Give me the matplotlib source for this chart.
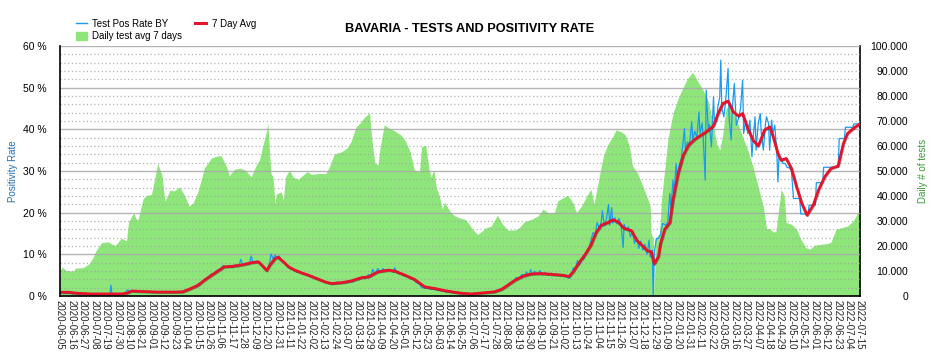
import matplotlib
matplotlib.use('Agg')
import matplotlib.pyplot as plt
import matplotlib.ticker as mticker
import matplotlib.patches as mpatches
import matplotlib.lines as mlines
import matplotlib.patheffects as pe
import pandas as pd

plt.rcParams['font.family'] = ['Liberation Sans', 'DejaVu Sans']

START = '2020-06-05'
END = '2022-07-15'

# daily tests, 7 day average (day offset from START -> tests)
test_day = [0, 2, 6, 13, 15, 22, 28, 32, 35, 40, 46, 53, 59, 64, 66, 71, 73, 75, 80, 83,
            88, 91, 94, 98, 101, 106, 110, 115, 120, 124, 128, 133, 139, 146, 152, 155, 160, 163, 168, 173,
            178, 184, 189, 192, 195, 199, 200, 203, 205, 207, 208, 213, 215, 217, 221, 224, 229, 234, 238, 242,
            250, 256, 260, 264, 271, 276, 280, 285, 288, 293, 298, 300, 303, 306, 308, 312, 317, 322, 328, 332,
            337, 341, 346, 348, 352, 355, 357, 360, 362, 365, 368, 370, 375, 380, 387, 390, 393, 397, 402, 410,
            415, 421, 426, 431, 438, 442, 447, 454, 460, 465, 470, 476, 479, 484, 489, 494, 497, 502, 507, 511,
            514, 519, 523, 527, 532, 535, 540, 544, 548, 551, 556, 561, 566, 568, 569, 571, 572, 573, 577, 579,
            582, 585, 590, 595, 600, 604, 609, 614, 619, 624, 628, 632, 635, 638, 641, 645, 648, 653, 657, 662,
            667, 672, 677, 680, 683, 686, 689, 692, 694, 697, 699, 704, 709, 713, 718, 722, 726, 733, 739, 742,
            747, 752, 758, 763, 768, 770]
test_avg = [10000, 11500, 10200, 10000, 11200, 11300, 12900, 15500, 18400, 21300, 21700, 20100, 23100, 22100,
            29700, 33300, 31000, 30400, 38900, 40200,
            40600, 46600, 53000, 48600, 38000, 42400, 42000, 43700, 40100, 36000, 37100, 42000, 51300, 55300,
            56000, 56200, 51900, 48100, 50700, 51100,
            50400, 47700, 52400, 54500, 59700, 66400, 69300, 49000, 47700, 36800, 40800, 41700, 38400, 47700,
            50400, 47700, 46600, 48400, 49700, 48700,
            49000, 49000, 52400, 56800, 57700, 59100, 61700, 67700, 68800, 71500, 73300, 63100, 53300, 52400,
            59100, 68400, 67100, 66100, 64400, 62400,
            57700, 50400, 49700, 59700, 60300, 51100, 47700, 50400, 43700, 40100, 34700, 37600, 34000, 32000,
            30900, 30700, 29300, 26700, 24600, 27300,
            28000, 32300, 28700, 26400, 26400, 27300, 29700, 30700, 32000, 34700, 33300, 33500, 38000, 39300,
            40200, 37100, 33300, 36000, 40100, 42700,
            36700, 47700, 56000, 60400, 63700, 66400, 65700, 64500, 60000, 52000, 49000, 44000, 38400, 36000,
            25000, 23000, 0, 23000, 25000, 39000,
            50400, 62400, 73100, 79100, 83700, 87000, 89500, 85700, 82400, 77700, 70400, 61100, 58400, 65100,
            75100, 76400, 73100, 68400, 63700, 58400,
            51700, 43700, 35700, 27000, 27000, 25700, 25700, 35700, 42700, 40100, 29400, 28700, 26700, 22700,
            19300, 18700, 20300, 20700, 21000, 21500,
            26700, 27300, 28000, 29800, 33300, 34700]

# positivity rate, 7 day average (%)
avg_day = [0, 8, 17, 30, 46, 59, 64, 69, 78, 94, 110, 118, 126, 133, 139, 146, 152, 158, 165, 171,
           178, 184, 191, 195, 199, 202, 207, 210, 215, 220, 226, 232, 239, 247, 255, 261, 271, 280, 290, 297,
           306, 316, 322, 332, 341, 351, 361, 370, 380, 387, 396, 409, 418, 425, 431, 438, 446, 454, 463, 473,
           483, 490, 494, 499, 505, 511, 516, 521, 527, 532, 537, 543, 550, 555, 560, 565, 569, 572, 576, 578,
           582, 587, 590, 595, 600, 605, 611, 617, 622, 629, 633, 638, 643, 648, 653, 657, 662, 667, 672, 675,
           678, 683, 686, 691, 694, 699, 704, 709, 714, 719, 725, 730, 736, 742, 749, 754, 758, 765, 770]
pos_avg = [0.9, 0.9, 0.65, 0.5, 0.5, 0.5, 0.65, 1.2, 1.1, 0.95, 0.95, 1.0, 1.8, 2.6, 3.8, 5.0, 6.0, 7.0, 7.1, 7.3,
           7.6, 8.0, 8.2, 7.2, 6.1, 7.4, 9.0, 9.3, 8.2, 7.0, 6.2, 5.6, 5.0, 4.2, 3.4, 3.0, 3.2, 3.6, 4.4, 4.6,
           5.8, 6.2, 6.0, 5.0, 4.0, 2.2, 1.8, 1.3, 0.9, 0.65, 0.5, 0.8, 1.0, 1.6, 2.6, 3.8, 4.8, 5.3, 5.4, 5.2,
           5.0, 4.7, 5.8, 7.8, 9.8, 12.2, 15.2, 17.0, 17.6, 18.3, 17.8, 16.2, 15.7, 13.4, 12.2, 10.9, 10.6, 7.7,
           9.5, 12.6,
           16.0, 17.6, 23.0, 29.4, 33.8, 36.2, 37.6, 38.6, 39.4, 40.8, 43.5, 46.2, 46.8, 44.2, 43.2, 43.8, 40.2,
           37.4, 36.0, 37.8,
           39.8, 40.6, 38.6, 34.2, 32.6, 33.0, 30.6, 26.2, 22.2, 19.4, 21.8, 25.4, 28.6, 30.6, 31.2, 36.6, 39.0,
           40.5, 41.3]

# test positivity rate, daily (%)
rate_day = [0, 3, 6, 9, 12, 15, 19, 22, 26, 30, 34, 38, 42, 46, 48, 49, 50, 54, 58, 62,
            65, 67, 70, 74, 78, 82, 86, 90, 94, 98, 102, 106, 110, 114, 118, 121, 124, 127, 130, 133,
            136, 139, 142, 145, 148, 151, 154, 157, 160, 163, 166, 169, 172, 174, 176, 179, 182, 184, 186, 189,
            192, 195, 198, 200, 202, 203, 205, 207, 209, 211, 213, 216, 219, 222, 225, 228, 231, 234, 237, 240,
            243, 246, 249, 252, 255, 258, 261, 264, 267, 270, 273, 276, 279, 282, 285, 288, 291, 294, 297, 299,
            301, 303, 306, 308, 311, 313, 316, 319, 321, 322, 325, 328, 331, 334, 337, 340, 343, 346, 348, 351,
            354, 357, 360, 363, 366, 369, 372, 375, 378, 381, 384, 387, 390, 395, 400, 405, 410, 415, 418, 421,
            424, 427, 430, 433, 436, 439, 442, 445, 447, 449, 451, 453, 455, 457, 460, 462, 464, 467, 470, 473,
            476, 479, 482, 485, 488, 490, 492, 494, 496, 498, 500, 502, 504, 506, 508, 510, 513, 515, 517, 519,
            521, 522, 524, 526, 528, 529, 531, 532, 534, 536, 538, 540, 542, 543, 545, 547, 549, 551, 553, 555,
            557, 559, 561, 563, 565, 567, 568, 570, 571, 572, 574, 576, 578, 580, 583, 585, 587, 588, 590, 591,
            593, 594, 596, 598, 601, 602, 604, 606, 608, 609, 611, 613, 615, 616, 618, 619, 621, 622, 624, 625,
            627, 629, 630, 632, 633, 635, 636, 637, 639, 641, 643, 644, 646, 647, 649, 651, 653, 655, 657, 658,
            660, 662, 664, 666, 667, 669, 670, 672, 674, 675, 677, 679, 680, 682, 683, 685, 686, 688, 690, 691,
            692, 694, 696, 698, 700, 702, 704, 706, 712, 713, 720, 721, 727, 728, 734, 735, 749, 750, 755, 756,
            763, 764, 770]
pos_rate = [0.7, 1.0, 0.6, 0.8, 0.5, 0.7, 0.4, 0.6, 0.4, 0.6, 0.3, 0.5, 0.4, 0.6, 0.3, 2.6, 0.4, 0.5, 0.4, 0.6,
            1.5, 0.9, 1.3, 1.0, 1.2, 0.9, 1.1, 0.8, 1.0, 0.9, 1.1, 0.8, 1.0, 0.9, 1.2, 1.4, 1.7, 2.0, 2.3, 2.9,
            3.2, 4.0, 4.3, 5.2, 5.4, 6.2, 6.4, 7.3, 6.9, 7.2, 6.8, 7.6, 7.0, 8.8, 7.4, 7.9, 7.5, 9.6, 7.8, 8.4,
            8.0, 7.0, 6.3, 6.5, 8.2, 10.1, 9.0, 9.8, 9.2, 9.6, 8.4, 8.0, 7.2, 6.5, 6.3, 5.7, 5.9, 5.2, 5.3, 4.7,
            4.8, 4.0, 4.2, 3.6, 3.5, 3.0, 3.1, 2.8, 3.4, 3.0, 3.3, 3.1, 3.5, 3.4, 4.0, 3.9, 4.5, 4.2, 5.2, 4.6,
            6.4, 5.3, 6.6, 5.7, 6.6, 6.0, 6.4, 6.1, 5.6, 6.8, 5.4, 5.3, 4.8, 4.7, 4.2, 4.0, 3.2, 2.9, 2.0, 1.9,
            1.9, 1.6, 1.7, 1.4, 1.3, 1.2, 1.0, 1.0, 0.8, 0.8, 0.6, 0.6, 0.5, 0.4, 0.5, 0.6, 0.8, 1.0, 0.9, 1.3,
            1.4, 2.0, 2.4, 3.2, 3.5, 4.4, 4.4, 5.2, 4.8, 5.8, 5.0, 6.3, 5.1, 5.9, 5.2, 6.1, 5.0, 5.7, 5.0, 5.5,
            4.9, 5.3, 4.8, 5.2, 4.6, 4.2, 4.9, 6.8, 6.2, 8.5, 7.4, 9.0, 8.8, 10.3, 10.6, 12.4, 15.2, 14.8, 17.6, 16.3,
            17.8, 20.5, 16.8, 18.6, 22.0, 17.0, 21.2, 17.5, 18.8, 17.3, 18.6, 17.2, 11.6, 17.2, 16.0, 16.6, 14.2,
            15.4, 12.6, 14.1,
            11.4, 13.2, 11.0, 12.4, 10.0, 13.4, 9.3, 11.0, 0.0, 10.4, 13.8, 13.8, 14.7, 17.4, 17.0, 17.8, 24.6,
            21.0, 27.8, 24.5,
            31.8, 28.5, 31.5, 33.0, 40.2, 35.0, 37.0, 36.5, 41.8, 37.5, 39.5, 38.0, 44.2, 39.0, 41.5, 38.5, 27.8,
            49.4, 39.6, 41.2,
            35.8, 47.8, 41.2, 42.0, 45.0, 47.8, 56.6, 45.0, 43.0, 47.8, 54.6, 43.0, 37.4, 44.6, 51.0, 41.0, 42.6,
            45.0, 51.8, 39.0,
            42.2, 39.0, 42.2, 33.4, 37.4, 43.0, 35.0, 41.4, 43.8, 39.0, 35.0, 41.4, 43.0, 41.4, 35.0, 42.2, 39.0,
            41.0, 34.0, 27.4,
            33.4, 33.0, 31.8, 31.8, 30.8, 30.8, 30.0, 23.4, 23.4, 19.7, 19.7, 21.8, 21.8, 27.2, 27.2, 30.9, 30.9,
            37.8, 37.8, 40.5,
            40.5, 41.3, 41.3]

GREEN = '#8ee67b'
BLUE = '#1a9af0'
RED = '#e6132b'


def to_dates(days):
    return pd.to_datetime(START) + pd.to_timedelta(days, unit='D')


fig = plt.figure(figsize=(9.34, 3.57), dpi=100)
ax = fig.add_axes([60 / 934, 1 - 296 / 357, 800 / 934, 250 / 357])
ax2 = ax.twinx()

ax2.fill_between(to_dates(test_day), test_avg, 0, color=GREEN, linewidth=0)
ax.set_zorder(ax2.get_zorder() + 1)
ax.patch.set_visible(False)

ax.plot(to_dates(rate_day), pos_rate, color=BLUE, lw=0.9)
ax.plot(to_dates(avg_day), pos_avg, color=RED, lw=2.0,
        path_effects=[pe.SimpleLineShadow(offset=(0.4, -0.4), alpha=0.35), pe.Normal()])

ax.set_ylim(0, 60)
ax2.set_ylim(0, 100000)
ax.set_xlim(pd.to_datetime(START), pd.to_datetime(END))

ax.yaxis.set_major_locator(mticker.MultipleLocator(10))
ax.yaxis.set_minor_locator(mticker.MultipleLocator(2))
ax.yaxis.set_major_formatter(mticker.FuncFormatter(lambda v, p: f'{int(v)} %'))
ax2.yaxis.set_major_locator(mticker.MultipleLocator(10000))
ax2.yaxis.set_major_formatter(mticker.FuncFormatter(lambda v, p: f'{int(v):,}'.replace(',', '.')))

ax.grid(which='major', axis='y', color='#a8a8a8', lw=1.0, alpha=0.85)
ax.grid(which='minor', axis='y', color='#a0a0a0', lw=0.9, linestyle=(0, (1, 2)), alpha=0.8)
ax.grid(False, axis='x')
ax.set_axisbelow(True)

ticks = pd.date_range(START, END, freq='11D')
ax.set_xticks(ticks)
ax.set_xticklabels([t.strftime('%Y-%m-%d') for t in ticks], rotation=-90, fontsize=7)
ax.tick_params(axis='x', length=0, pad=3, labelcolor='#222222')
ax.tick_params(axis='y', which='both', length=0, labelsize=7.5, pad=9.5)
ax2.tick_params(axis='y', length=0, labelsize=7.5, pad=34.5)
for lbl in ax2.get_yticklabels():
    lbl.set_horizontalalignment('right')

for s in ['top', 'right']:
    ax.spines[s].set_visible(False)
for s in ['top', 'left', 'bottom']:
    ax2.spines[s].set_visible(False)
ax.spines['left'].set_linewidth(1.2)
ax.spines['bottom'].set_linewidth(1.2)
ax2.spines['right'].set_linewidth(1.2)

ax.set_ylabel('Positivity Rate', color='#1f6fb0', fontsize=7)
ax.yaxis.set_label_coords(-0.052, 0.5)
ax2.set_ylabel('Daily # of tests', color='#3a9a3a', fontsize=7, rotation=90)
ax2.yaxis.set_label_coords(1.073, 0.5)

fig.text(470 / 934, 1 - 29 / 357, 'BAVARIA - TESTS AND POSITIVITY RATE', ha='center', va='center',
         fontsize=9.2, fontweight='bold')

handles = [
    mlines.Line2D([], [], color=BLUE, lw=1.0),
    mpatches.Patch(color=GREEN),
    mlines.Line2D([], [], color=RED, lw=2.2),
]
labels = ['Test Pos Rate BY', 'Daily test avg 7 days', '7 Day Avg']
fig.legend(handles, labels, loc='upper left', bbox_to_anchor=(71 / 934, 1 - 14 / 357), ncol=2,
           frameon=False, fontsize=7, handlelength=1.1, handleheight=1.0, handletextpad=0.6,
           columnspacing=1.3, labelspacing=0.25, borderpad=0)

fig.savefig('out.png', dpi=100)
